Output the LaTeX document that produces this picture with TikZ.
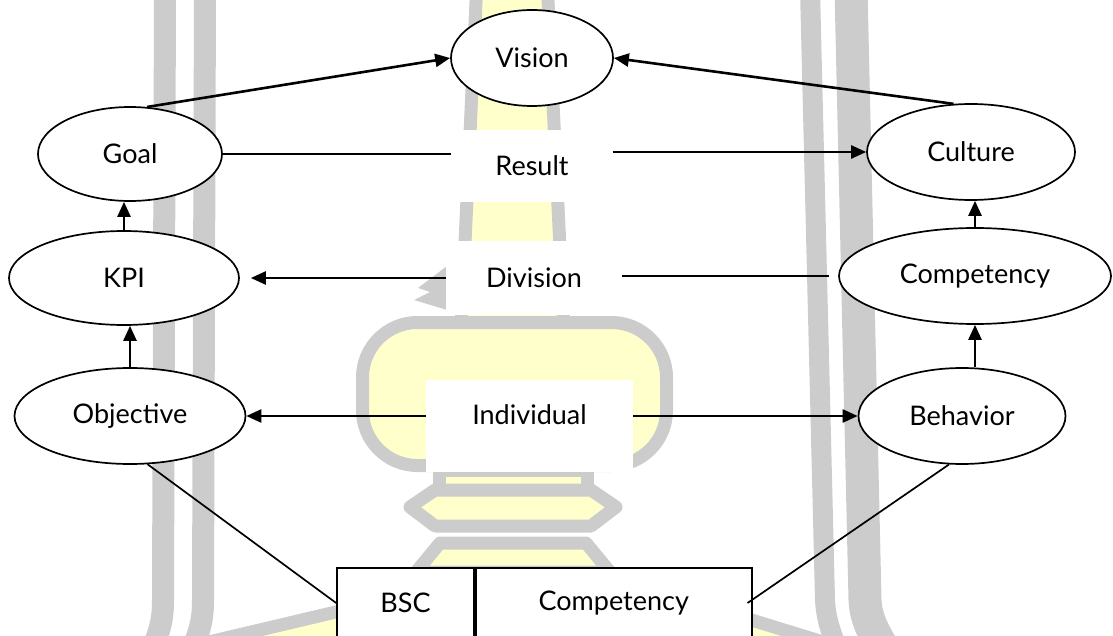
\documentclass[tikz,border=0pt]{standalone}
\usepackage{fontspec}
\setmainfont{Lato}
\usetikzlibrary{shapes.geometric,arrows.meta}
\definecolor{wmgray}{RGB}{204,204,204}
\definecolor{wmyellow}{RGB}{255,255,204}

\begin{document}
\begin{tikzpicture}[x=1pt, y=-1pt,
  every node/.style={font=\fontsize{27}{32}\selectfont},
  oval/.style={draw, ellipse, fill=white, line width=1.7pt, inner sep=0pt},
  tag/.style={fill=white, inner sep=0pt},
  cell/.style={draw, fill=white, line width=1.7pt, minimum height=70pt, inner sep=0pt},
  arr/.style={line width=2.6pt, -{Triangle[length=15pt,width=13pt]}},
  link/.style={line width=1.7pt},
  wm/.style={draw=wmgray, fill=wmyellow, line width=13pt, line join=round}
]
\useasboundingbox (0,0) rectangle (1113,636);

% background emblem
\draw[wmgray, line width=22pt] (165,-10) -- (163,600) .. controls (163,620) and (160,630) .. (152,650);
\draw[wmgray, line width=22pt] (205,-10) -- (203,600) .. controls (203,620) and (200,630) .. (192,650);
\draw[wmgray, line width=20pt] (810,-10) -- (825,600) .. controls (826,618) and (830,630) .. (838,650);
\draw[wmgray, line width=33pt] (851,-10) -- (865,600) .. controls (866,618) and (872,630) .. (884,650);
\draw[wm] (477,-20) -- (547,-20) -- (564,330) -- (461,330) -- cycle;
\fill[wmgray] (447,266) -- (418,288) -- (430,292) -- (414,300) -- (447,310) -- cycle;
\draw[wm, rounded corners=55pt] (362.5,322.5) rectangle (666.5,465.5);
\draw[wm] (439,470) rectangle (587,492);
\draw[wm] (435,490) -- (591,490) -- (616,507) -- (591,526) -- (435,526) -- (410,507) -- cycle;
\draw[wm] (440,543) -- (586,543) -- (610,572) -- (416,572) -- cycle;
\draw[wm] (340,611) -- (745,618) -- (849,650) -- (175,650) -- cycle;

% ovals
\node[oval, minimum width=162pt, minimum height=96pt] (vision) at (532,58) {Vision};
\node[oval, minimum width=184pt, minimum height=94pt] (goal) at (130,154) {Goal};
\node[oval, minimum width=230pt, minimum height=94pt] (kpi) at (124,278) {KPI};
\node[oval, minimum width=231pt, minimum height=96pt] (obj) at (130,416) {Objective};
\node[oval, minimum width=208pt, minimum height=96pt] (culture) at (971,152) {Culture};
\node[oval, minimum width=272pt, minimum height=96pt] (comp) at (975,276) {Competency};
\node[oval, minimum width=207pt, minimum height=96pt] (behav) at (962,416) {Behavior};

% level labels
\node[tag, minimum width=161pt, minimum height=72pt] (result) at (532,166) {Result};
\node[tag, minimum width=176pt, minimum height=73pt] (division) at (534,278) {Division};
\node[tag, minimum width=207pt, minimum height=92pt, text depth=23pt] (indiv) at (529.5,426) {Individual};

% bottom table
\node[cell, minimum width=137pt] (bsc) at (405.5,603) {BSC};
\node[cell, minimum width=276pt, anchor=west] (cmpbox) at (bsc.east) {Competency};

% connectors
\draw[arr] (goal.70) -- (vision.west);
\draw[arr] (culture.110) -- (vision.east);
\draw[link] (goal.east) -- (goal.east -| result.west);
\draw[arr] (result.east |- culture.west) -- (culture.west);
\draw[arr] (kpi.north) -- (kpi.north |- goal.south);
\draw[arr, shorten >=11pt] (division.west |- kpi.east) -- (kpi.east);
\draw[link, shorten >=9pt] (division.east |- comp.west) -- (comp.west);
\draw[arr] (comp.north) -- (comp.north |- culture.south);
\draw[arr] (obj.north) -- (obj.north |- kpi.south);
\draw[arr] (comp.south |- behav.north) -- (comp.south);
\draw[arr] (indiv.west |- obj.east) -- (obj.east);
\draw[arr] (indiv.east |- behav.west) -- (behav.west);
\draw[link] (obj.-70) -- (bsc.west);
\draw[link] (behav.-105) -- ([xshift=-5pt]cmpbox.east);
\end{tikzpicture}
\end{document}
